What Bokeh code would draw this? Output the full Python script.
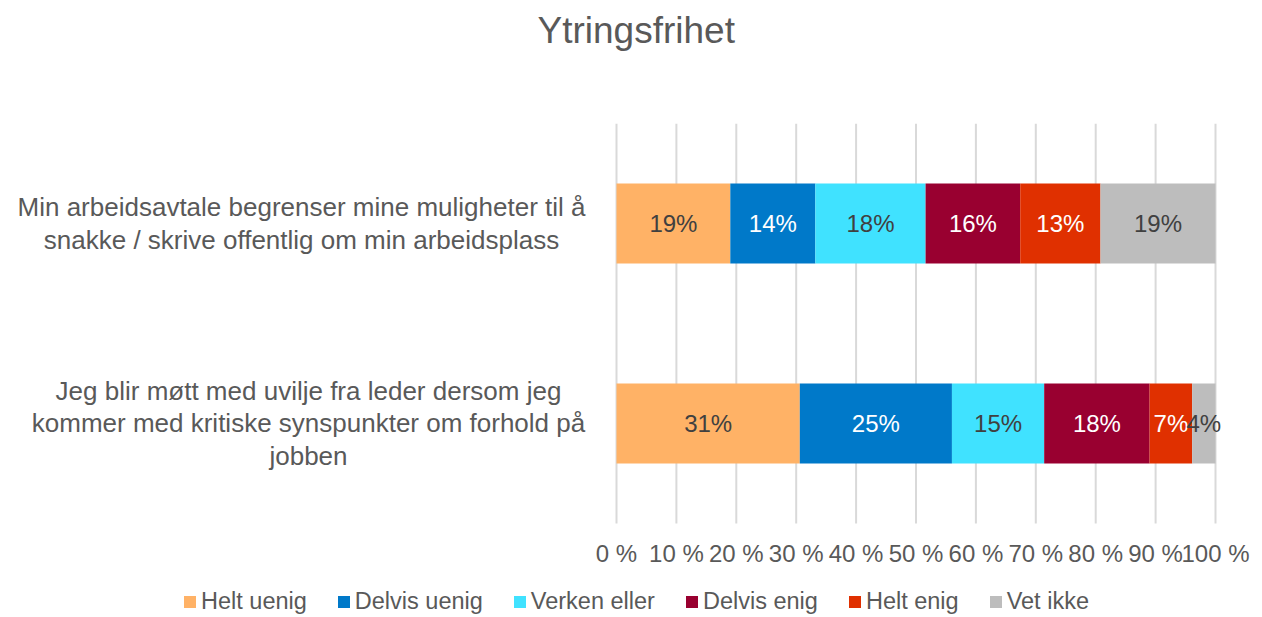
from bokeh.plotting import figure
from bokeh.models import Range1d, ColumnDataSource, Legend, LegendItem, Title
from bokeh.embed import file_html
from bokeh.resources import INLINE
from bokeh.core.properties import value

# ---------------- data ----------------
title_text = "Ytringsfrihet"
categories = [
    "Min arbeidsavtale begrenser mine muligheter til å\nsnakke / skrive offentlig om min arbeidsplass",
    "Jeg blir møtt med uvilje fra leder dersom jeg\nkommer med kritiske synspunkter om forhold på\njobben",
]
series = ["Helt uenig", "Delvis uenig", "Verken eller", "Delvis enig", "Helt enig", "Vet ikke"]
helt_uenig = [19.0, 30.6]
delvis_uenig = [14.2, 25.4]
verken_eller = [18.4, 15.4]
delvis_enig = [15.8, 17.6]
helt_enig = [13.4, 7.1]
vet_ikke = [19.2, 3.9]
x_ticks = [0, 10, 20, 30, 40, 50, 60, 70, 80, 90, 100]
x_tick_labels = ["0 %", "10 %", "20 %", "30 %", "40 %", "50 %", "60 %", "70 %", "80 %", "90 %", "100 %"]

# ---------------- style / layout ----------------
colors = ["#FFB266", "#0079C9", "#40E2FF", "#990030", "#E03000", "#BDBDBD"]
label_colors = ["#404040", "#FFFFFF", "#404040", "#FFFFFF", "#FFFFFF", "#404040"]
category_label_offsets = [-315, -308]   # px, centre of each label block left of 0 %
FONT = "Liberation Sans"
GREY = "#595959"
W, H = 1262, 615
FRAME_LEFT = 14                          # canvas px where the drawing area starts
FRAME_TOP = 123                          # canvas px of the top of the category band
ZERO_PX, HUNDRED_PX = 616, 1215          # where 0 % and 100 % sit on the canvas
SLOT_PX = 200                            # height of one category slot
TICK_LABEL_PX = 553                      # canvas y of the percentage labels
LEGEND_LEFT_PX = 182

n = len(categories)
px_per_unit = (HUNDRED_PX - ZERO_PX) / 100.0
x_start = -(ZERO_PX - FRAME_LEFT) / px_per_unit
x_end = 100 + (W - HUNDRED_PX) / px_per_unit


def px_to_y(py):
    return n - (py - FRAME_TOP) / SLOT_PX


y_start = px_to_y(H)
y_pos = [n - i - 0.5 for i in range(n)]   # first category on top

values = [helt_uenig, delvis_uenig, verken_eller, delvis_enig, helt_enig, vet_ikke]

data = {"y": y_pos}
for name, vals in zip(series, values):
    data[name] = vals
source = ColumnDataSource(data)

p = figure(width=W, height=H,
           x_range=Range1d(x_start, x_end), y_range=Range1d(y_start, n),
           output_backend="svg", toolbar_location=None,
           min_border_left=FRAME_LEFT, min_border_right=0,
           min_border_top=FRAME_TOP, min_border_bottom=0)

# spacer panel (closest to the plot) then the real title above it
p.add_layout(Title(text=" ", text_font_size="10px", standoff=58, text_color="#FFFFFF"), "above")
p.add_layout(Title(text=title_text, align="left", offset=537 - FRAME_LEFT,
                   text_font=FONT, text_font_size="37px", text_font_style="normal",
                   text_color=GREY, standoff=4), "above")

p.xaxis.visible = False
p.yaxis.visible = False
p.xgrid.visible = False
p.ygrid.visible = False
p.outline_line_color = None

# vertical gridlines at the percentage ticks, spanning the category band
p.segment(x0=x_ticks, x1=x_ticks, y0=[0] * len(x_ticks), y1=[n] * len(x_ticks),
          line_color="#D9D9D9", line_width=2)

renderers = p.hbar_stack(series, y="y", height=0.4, color=colors,
                         line_color=None, source=source)

# data labels
left = [0.0] * n
for i, vals in enumerate(values):
    mids = [l + v / 2 for l, v in zip(left, vals)]
    texts = [f"{v:.0f}%" for v in vals]
    src = ColumnDataSource({"x": mids, "y": y_pos, "t": texts})
    p.text(x="x", y="y", text="t", source=src, text_align="center",
           text_baseline="middle", text_color=label_colors[i],
           text_font=value(FONT), text_font_size="24px")
    left = [l + v for l, v in zip(left, vals)]

# category labels (centred lines, as in the original)
cat_src = ColumnDataSource({"x": [0] * n, "y": y_pos,
                            "t": categories, "dx": category_label_offsets})
p.text(x="x", y="y", text="t", x_offset="dx", source=cat_src,
       text_align="center", text_baseline="middle",
       text_font=value(FONT), text_font_size="26px",
       text_color=GREY, text_line_height=1.09)

# percentage tick labels
tick_src = ColumnDataSource({"x": x_ticks, "y": [px_to_y(TICK_LABEL_PX)] * len(x_ticks),
                             "t": x_tick_labels})
p.text(x="x", y="y", text="t", source=tick_src, text_align="center",
       text_baseline="middle", text_color=GREY,
       text_font=value(FONT), text_font_size="24px")

legend = Legend(items=[LegendItem(label=nm, renderers=[r]) for nm, r in zip(series, renderers)],
                orientation="horizontal", location=(LEGEND_LEFT_PX - FRAME_LEFT, 0),
                glyph_width=15, glyph_height=15, label_standoff=4, spacing=29,
                padding=0, margin=0, border_line_color=None, background_fill_alpha=0,
                label_text_font=FONT, label_text_font_size="23.5px",
                label_text_color=GREY, label_height=15)
p.add_layout(legend, "center")

open("out.html", "w").write(file_html(p, INLINE))
